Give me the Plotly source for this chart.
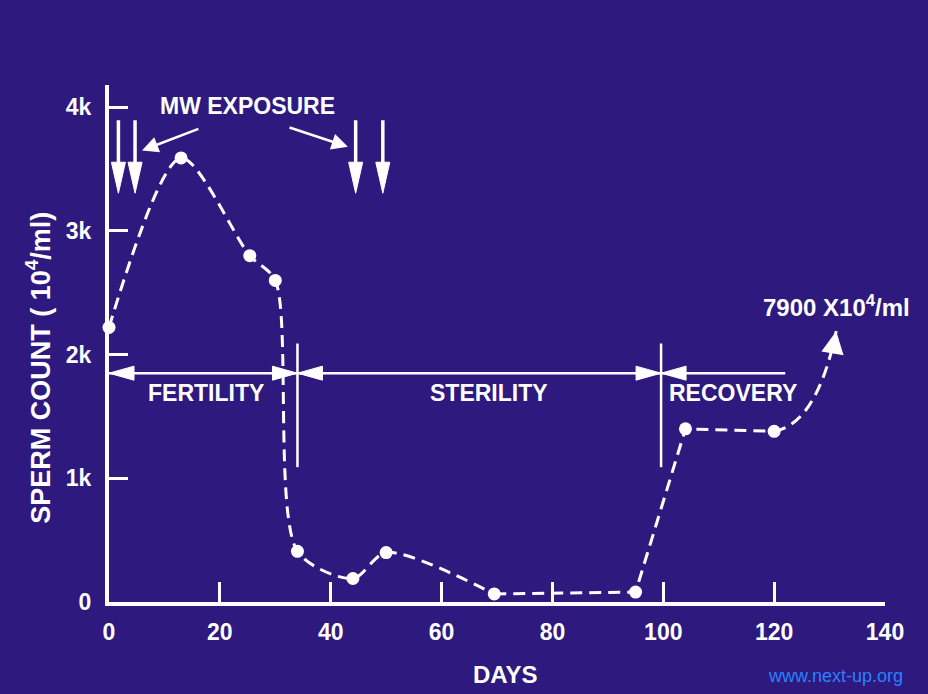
import plotly.graph_objects as go

# ---- data ----
days = [0, 13, 25.4, 30, 34, 44, 50, 69.5, 95, 104, 120]
sperm_count = [2220, 3590, 2800, 2600, 410, 190, 400, 65, 80, 1400, 1380]
trend_day = [131.2]          # curve continues off-scale toward 7900 x10^4/ml
trend_value = [2190]

x_ticks = [0, 20, 40, 60, 80, 100, 120, 140]
y_ticks = [0, 1000, 2000, 3000, 4000]
y_tick_labels = ["0", "1k", "2k", "3k", "4k"]

exposure_days = [1.7, 4.7, 44.5, 49.4]
phase_bounds = [0, 34, 99.6, 122]
phase_names = ["FERTILITY", "STERILITY", "RECOVERY"]
phase_label_days = [17.5, 68.5, 112.5]
phase_level = 1850
offscale_label = "7900 X10<sup>4</sup>/ml"

BG = "rgb(46,25,126)"
W = "white"
FONT = "Liberation Sans, Arial, sans-serif"
DASH = "12px,7px"

SMOOTH_END = 8   # smooth (spline) part of the curve: first 8 points

fig = go.Figure()

# smooth part
fig.add_trace(go.Scatter(
    x=days[:SMOOTH_END], y=sperm_count[:SMOOTH_END], mode="lines",
    line=dict(color=W, width=3, dash=DASH, shape="spline", smoothing=0.8),
    hoverinfo="skip", showlegend=False, cliponaxis=False))
# straight part
fig.add_trace(go.Scatter(
    x=days[SMOOTH_END - 1:], y=sperm_count[SMOOTH_END - 1:], mode="lines",
    line=dict(color=W, width=3, dash=DASH),
    hoverinfo="skip", showlegend=False, cliponaxis=False))
# markers
fig.add_trace(go.Scatter(
    x=days, y=sperm_count, mode="markers",
    marker=dict(color=W, size=13, line=dict(width=0)),
    showlegend=False, cliponaxis=False))

shapes = []
# curved trend toward the off-scale value
x0, y0 = days[-1], sperm_count[-1]
x1, y1 = trend_day[0], trend_value[0]
shapes.append(dict(type="path", xref="x", yref="y",
                   path=f"M{x0},{y0} Q{x1 - 3.5},{y0 + 60} {x1},{y1}",
                   line=dict(color=W, width=3, dash=DASH)))

# MW exposure arrows: shaft + long narrow head
for d in exposure_days:
    shapes.append(dict(type="line", xref="x", yref="y", x0=d, x1=d, y0=3895, y1=3450,
                       line=dict(color=W, width=3.5)))
    shapes.append(dict(type="path", xref="x", yref="y", xsizemode="pixel", ysizemode="pixel",
                       xanchor=d, yanchor=3305, path="M-7,31 L7,31 L0,0 Z",
                       fillcolor=W, line=dict(color=W, width=1)))

# phase boundary lines and arrows
for b in phase_bounds[1:3]:
    shapes.append(dict(type="line", xref="x", yref="y", x0=b, x1=b, y0=1090, y1=2090,
                       line=dict(color=W, width=2.5)))
shapes.append(dict(type="line", xref="x", yref="y", x0=phase_bounds[0], x1=phase_bounds[-1],
                   y0=phase_level, y1=phase_level, line=dict(color=W, width=2.5)))
for b in phase_bounds[:-1]:
    # left-pointing head at the start of each phase
    shapes.append(dict(type="path", xref="x", yref="y", xsizemode="pixel", ysizemode="pixel",
                       xanchor=b, yanchor=phase_level, path="M0,0 L25,7 L25,-7 Z",
                       fillcolor=W, line=dict(color=W, width=1)))
for b in phase_bounds[1:3]:
    # right-pointing head at the end of each phase
    shapes.append(dict(type="path", xref="x", yref="y", xsizemode="pixel", ysizemode="pixel",
                       xanchor=b, yanchor=phase_level, path="M0,0 L-25,7 L-25,-7 Z",
                       fillcolor=W, line=dict(color=W, width=1)))

ann = []
ann.append(dict(x=25, y=4010, xref="x", yref="y", text="<b>MW EXPOSURE</b>",
                showarrow=False, font=dict(color=W, size=23, family=FONT)))
ann.append(dict(x=5.95, y=3650, ax=16.4, ay=3830, xref="x", yref="y", axref="x", ayref="y",
                text="", showarrow=True, arrowhead=2, arrowsize=1.3, arrowwidth=2.5, arrowcolor=W))
ann.append(dict(x=43.1, y=3680, ax=32.3, ay=3840, xref="x", yref="y", axref="x", ayref="y",
                text="", showarrow=True, arrowhead=2, arrowsize=1.3, arrowwidth=2.5, arrowcolor=W))
for i in range(3):
    ann.append(dict(x=phase_label_days[i], y=1690, xref="x", yref="y",
                    text="<b>%s</b>" % phase_names[i], showarrow=False,
                    font=dict(color=W, size=23, family=FONT)))
# arrowhead at the end of the trend curve
ann.append(dict(x=trend_day[0], y=trend_value[0], ax=trend_day[0] - 0.6, ay=trend_value[0] - 160,
                xref="x", yref="y", axref="x", ayref="y", text="", showarrow=True,
                arrowhead=2, arrowsize=1.5, arrowwidth=3, arrowcolor=W))
ann.append(dict(x=131.3, y=2390, xref="x", yref="y", text="<b>%s</b>" % offscale_label,
                showarrow=False, font=dict(color=W, size=24, family=FONT)))
ann.append(dict(x=1.026, y=-0.143, xref="paper", yref="paper", xanchor="right", yanchor="middle",
                text="www.next-up.org", showarrow=False,
                font=dict(color="rgb(40,130,255)", size=18,
                          family="Liberation Sans Narrow, Arial Narrow, Arial")))
# axis titles
ann.append(dict(x=-0.0915, y=0.453, xref="paper", yref="paper", xanchor="center", yanchor="middle",
                textangle=-90, text="<b>SPERM COUNT ( 10<sup>4</sup>/ml)</b>", showarrow=False,
                font=dict(color=W, size=27, family=FONT)))
ann.append(dict(x=0.51, y=-0.141, xref="paper", yref="paper", xanchor="center", yanchor="middle",
                text="<b>DAYS</b>", showarrow=False, font=dict(color=W, size=24, family=FONT)))

fig.update_layout(
    shapes=shapes, annotations=ann,
    width=928, height=694,
    paper_bgcolor=BG, plot_bgcolor=BG,
    margin=dict(l=109, r=43, t=85, b=92),
    font=dict(family=FONT, color=W),
    xaxis=dict(range=[0, 140], tickvals=x_ticks, ticks="inside", ticklen=20, tickwidth=3,
               tickcolor=W, showline=True, linecolor=W, linewidth=4, showgrid=False,
               zeroline=False, tickfont=dict(size=23, color=W, family=FONT, weight="bold"),
               ticklabelstandoff=6),
    yaxis=dict(range=[0, 4180], tickvals=y_ticks, ticktext=y_tick_labels, ticks="inside",
               ticklen=19, tickwidth=3, tickcolor=W, showline=True, linecolor=W, linewidth=4,
               showgrid=False, zeroline=False, ticklabelstandoff=9,
               tickfont=dict(size=23, color=W, family=FONT, weight="bold")),
)

fig.write_html("out.html", config={"displayModeBar": False},
               post_script="document.body.style.margin='0';document.body.style.background='%s';" % BG)
